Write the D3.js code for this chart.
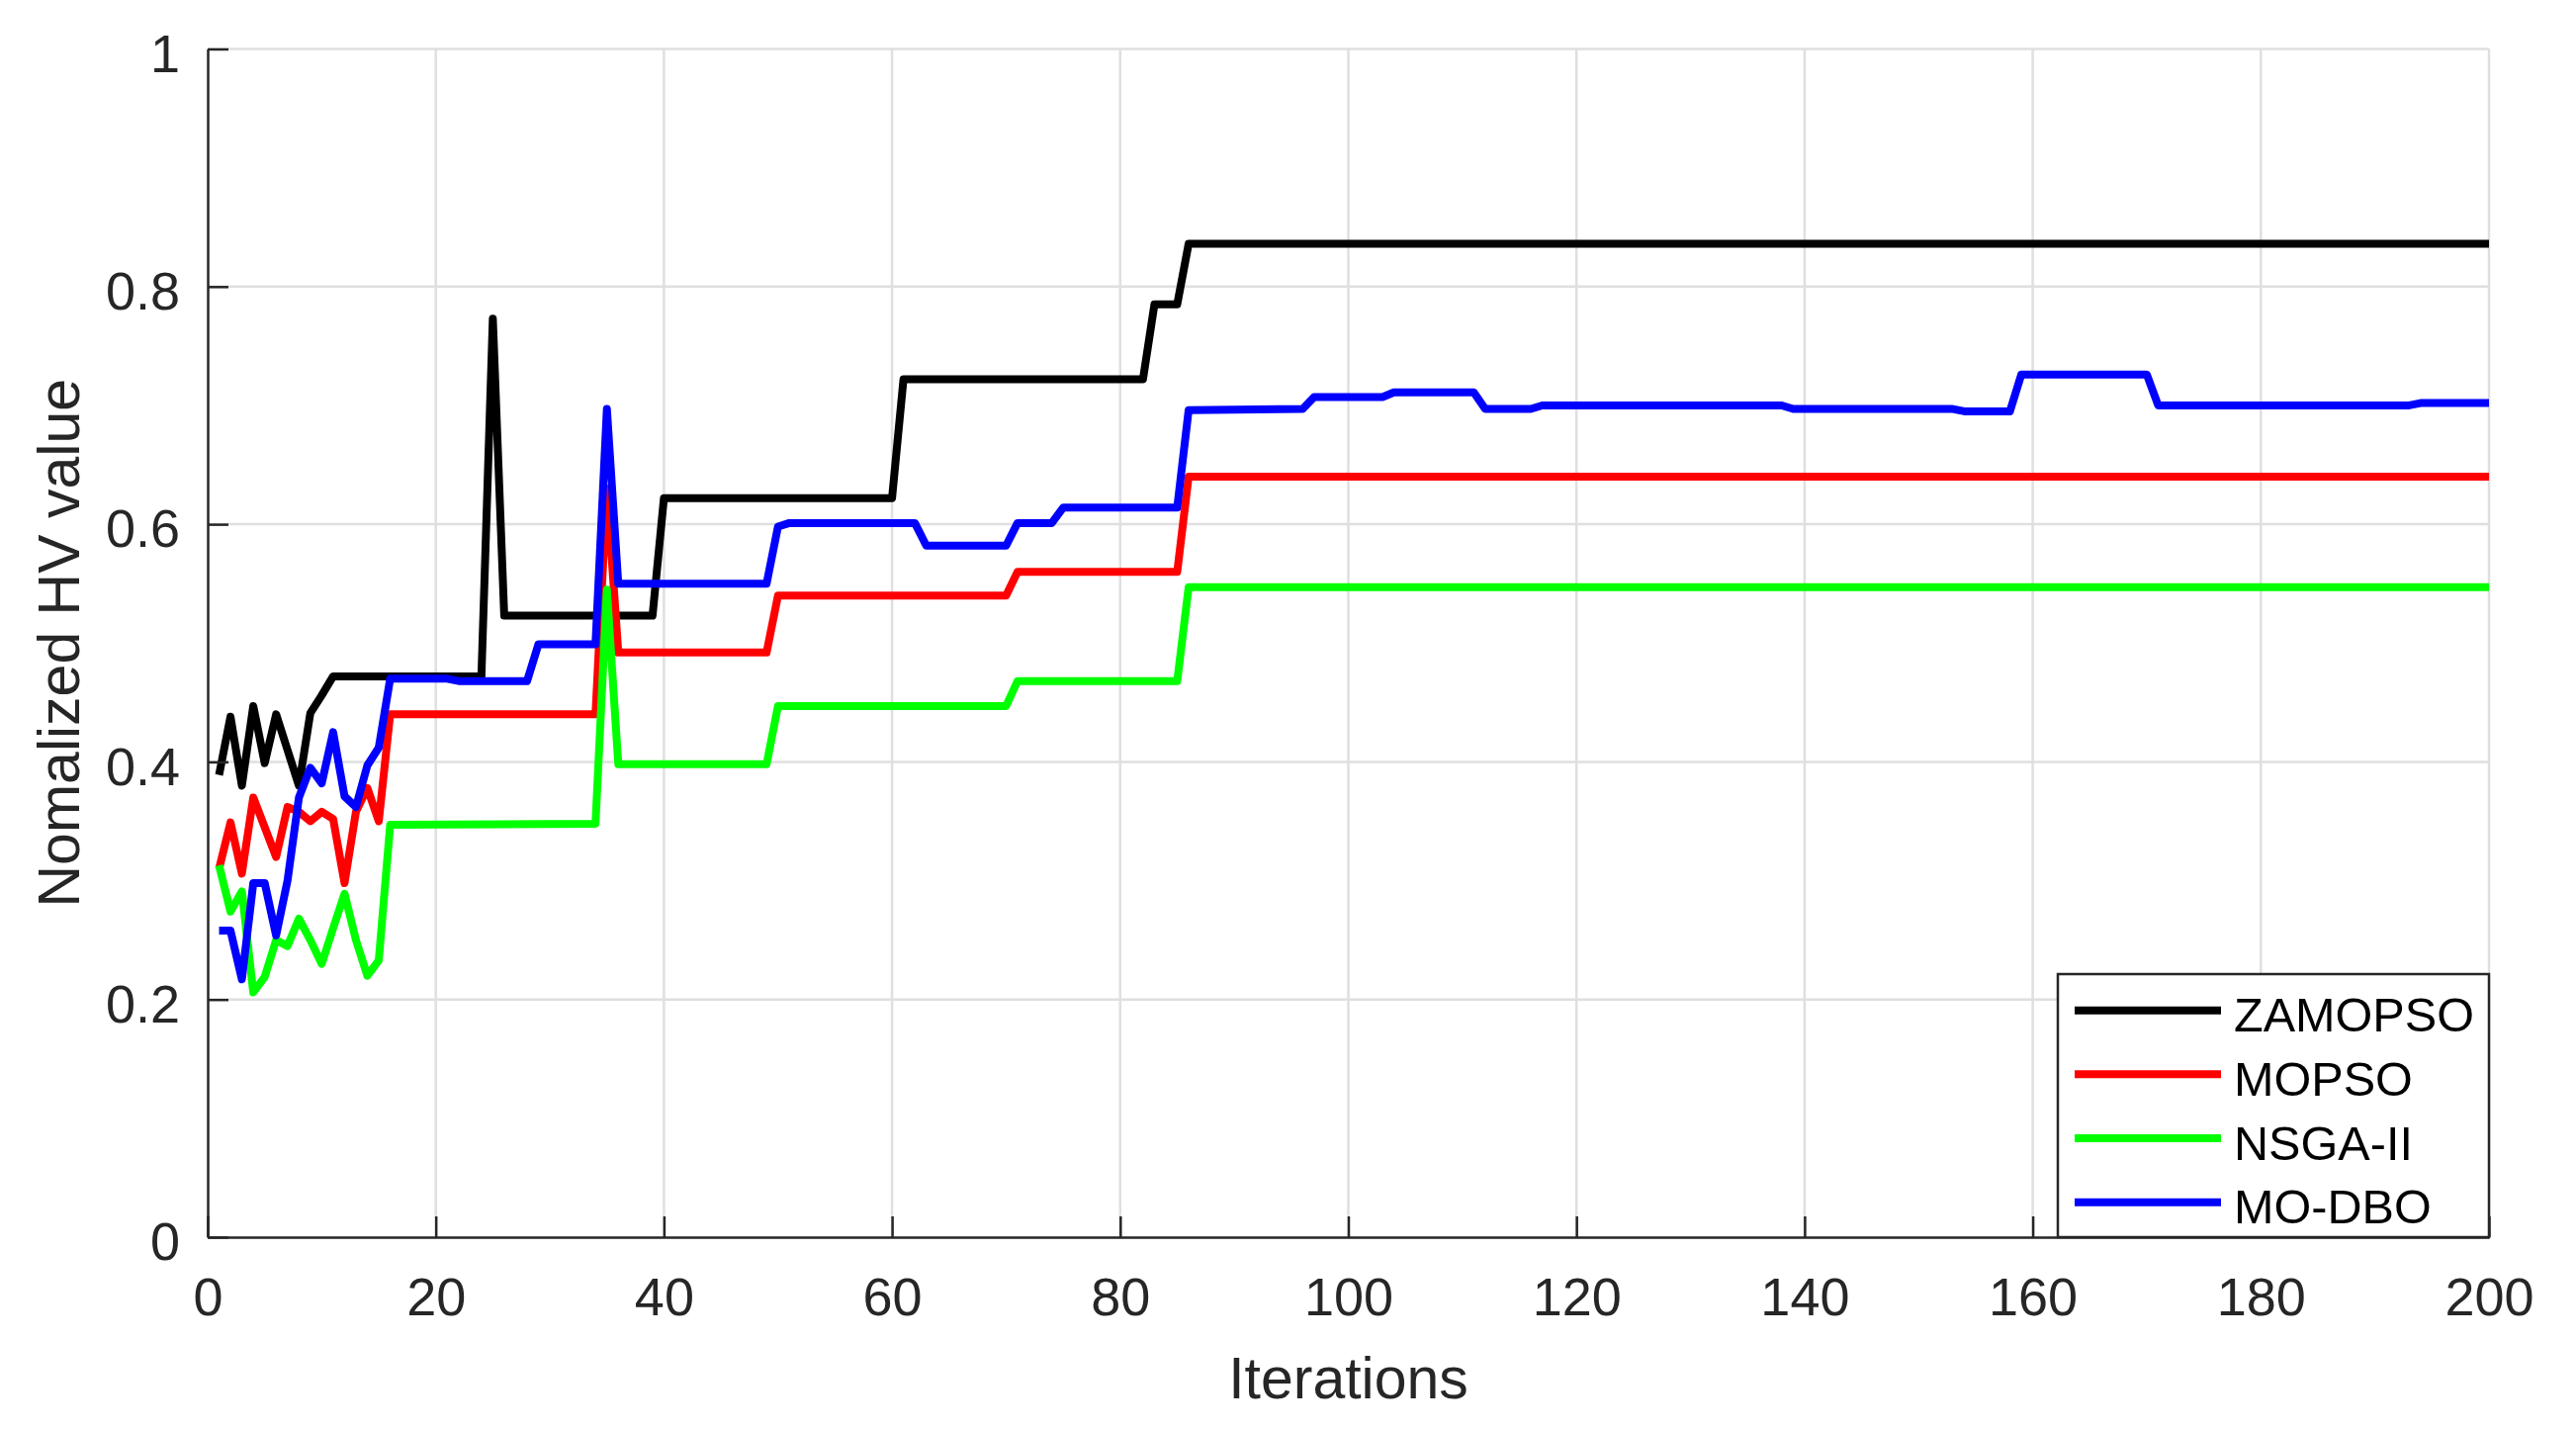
<!DOCTYPE html>
<html>
<head>
<meta charset="utf-8">
<script src="https://cdn.jsdelivr.net/npm/d3@7"></script>
<style>
  body { margin: 0; background: #fff; }
  svg text { font-family: "Liberation Sans", Arial, sans-serif; fill: #262626; }
</style>
</head>
<body>
<svg id="chart"></svg>
<script>
// --- data ---
const seriesNames = ["ZAMOPSO", "MOPSO", "NSGA-II", "MO-DBO"];
const seriesColors = ["#000000", "#ff0000", "#00ff00", "#0000ff"];

// points where each curve changes direction (flat runs keep their end points)
const zamopsoIter = [1, 2, 3, 4, 5, 6, 7, 8, 9, 10, 11, 24, 25, 26, 39, 40, 60, 61, 82, 83, 85, 86, 200];
const zamopsoHV   = [0.389, 0.438, 0.380, 0.447, 0.399, 0.440, 0.410, 0.380, 0.441, 0.456, 0.472, 0.472, 0.773, 0.523, 0.523, 0.622, 0.622, 0.722, 0.722, 0.785, 0.785, 0.836, 0.836];

const mopsoIter = [1, 2, 3, 4, 5, 6, 7, 8, 9, 10, 11, 12, 13, 14, 15, 16, 34, 35, 36, 49, 50, 70, 71, 85, 86, 200];
const mopsoHV   = [0.310, 0.349, 0.306, 0.370, 0.345, 0.320, 0.362, 0.358, 0.350, 0.358, 0.352, 0.298, 0.358, 0.378, 0.350, 0.440, 0.440, 0.630, 0.492, 0.492, 0.540, 0.540, 0.560, 0.560, 0.640, 0.640];

const nsgaIter = [1, 2, 3, 4, 5, 6, 7, 8, 9, 10, 11, 12, 13, 14, 15, 16, 34, 35, 36, 49, 50, 70, 71, 85, 86, 200];
const nsgaHV   = [0.313, 0.274, 0.291, 0.206, 0.219, 0.250, 0.245, 0.268, 0.250, 0.230, 0.260, 0.289, 0.250, 0.220, 0.233, 0.347, 0.348, 0.545, 0.398, 0.398, 0.447, 0.447, 0.468, 0.468, 0.547, 0.547];

const modboIter = [1, 2, 3, 4, 5, 6, 7, 8, 9, 10, 11, 12, 13, 14, 15, 16, 21, 22, 28, 29, 34, 35, 36, 49, 50, 51, 62, 63, 70, 71, 74, 75, 85, 86, 96, 97, 103, 104, 111, 112, 116, 117, 138, 139, 153, 154, 158, 159, 170, 171, 193, 194, 200];
const modboHV   = [0.258, 0.258, 0.217, 0.298, 0.298, 0.254, 0.300, 0.370, 0.395, 0.382, 0.425, 0.371, 0.362, 0.397, 0.412, 0.470, 0.470, 0.468, 0.468, 0.499, 0.499, 0.697, 0.550, 0.550, 0.598, 0.601, 0.601, 0.582, 0.582, 0.601, 0.601, 0.614, 0.614, 0.696, 0.697, 0.707, 0.707, 0.711, 0.711, 0.697, 0.697, 0.700, 0.700, 0.697, 0.697, 0.695, 0.695, 0.726, 0.726, 0.700, 0.700, 0.702, 0.702];

const xTicks = [0, 20, 40, 60, 80, 100, 120, 140, 160, 180, 200];
const yTicks = [0, 0.2, 0.4, 0.6, 0.8, 1];

const xTitle = "Iterations";
const yTitle = "Nomalized HV value";

// --- layout ---
const width = 2605, height = 1445;
const margin = { left: 210, right: 88, top: 49.5, bottom: 194 };
const plotW = width - margin.left - margin.right;
const plotH = height - margin.top - margin.bottom;

const svg = d3.select("#chart")
    .attr("width", width)
    .attr("height", height)
    .style("background", "#fff");

const x = d3.scaleLinear().domain([0, 200]).range([margin.left, margin.left + plotW]);
const y = d3.scaleLinear().domain([0, 1]).range([margin.top + plotH, margin.top]);

// grid
const grid = svg.append("g").attr("stroke", "#dfdfdf").attr("stroke-width", 2.5);
grid.selectAll(".gx")
    .data(xTicks.filter(d => d > 0))
    .join("line")
    .attr("x1", d => x(d)).attr("x2", d => x(d))
    .attr("y1", y(0)).attr("y2", y(1));
grid.selectAll(".gy")
    .data(yTicks.filter(d => d > 0))
    .join("line")
    .attr("x1", x(0)).attr("x2", x(200))
    .attr("y1", d => y(d)).attr("y2", d => y(d));

// series
const series = [
    { iter: zamopsoIter, hv: zamopsoHV },
    { iter: mopsoIter, hv: mopsoHV },
    { iter: nsgaIter, hv: nsgaHV },
    { iter: modboIter, hv: modboHV }
];

const line = d3.line()
    .x(d => x(d[0]))
    .y(d => y(d[1]));

svg.append("g")
    .selectAll("path")
    .data(series)
    .join("path")
    .attr("d", s => line(s.iter.map((it, i) => [it, s.hv[i]])))
    .attr("fill", "none")
    .attr("stroke", (s, i) => seriesColors[i])
    .attr("stroke-width", 8)
    .attr("stroke-linejoin", "round");

// axes
const xAxis = d3.axisBottom(x)
    .tickValues(xTicks)
    .tickSizeInner(-21)
    .tickSizeOuter(0)
    .tickPadding(41)
    .tickFormat(d3.format("d"));

const yAxis = d3.axisLeft(y)
    .tickValues(yTicks)
    .tickSizeInner(-21)
    .tickSizeOuter(0)
    .tickPadding(28)
    .tickFormat(d3.format("~g"));

const gx = svg.append("g")
    .attr("transform", `translate(0,${y(0)})`)
    .call(xAxis);
const gy = svg.append("g")
    .attr("transform", `translate(${x(0)},0)`)
    .call(yAxis);

[gx, gy].forEach(g => {
    g.select(".domain").attr("stroke", "#262626").attr("stroke-width", 2.5);
    g.selectAll(".tick line").attr("stroke", "#262626").attr("stroke-width", 2.5);
    g.selectAll(".tick text")
        .attr("fill", "#262626")
        .style("font-size", "54px")
        .style("font-family", '"Liberation Sans", Arial, sans-serif');
});
gy.selectAll(".tick text").attr("dy", "0.42em");

// axis titles
svg.append("text")
    .attr("x", x(100))
    .attr("y", 1414)
    .attr("text-anchor", "middle")
    .style("font-size", "59px")
    .text(xTitle);

svg.append("text")
    .attr("transform", `translate(80,${y(0.5)}) rotate(-90)`)
    .attr("text-anchor", "middle")
    .style("font-size", "59px")
    .text(yTitle);

// legend
const legW = 436, legH = 266;
const legend = svg.append("g")
    .attr("transform", `translate(${x(200) - legW},${y(0) - legH})`);

legend.append("rect")
    .attr("width", legW)
    .attr("height", legH)
    .attr("fill", "#fff")
    .attr("stroke", "#262626")
    .attr("stroke-width", 2.5);

const items = legend.selectAll(".item")
    .data(seriesNames)
    .join("g")
    .attr("class", "item")
    .attr("transform", (d, i) => `translate(0,${36.7 + i * 64.65})`);

items.append("line")
    .attr("x1", 17).attr("x2", 165)
    .attr("stroke", (d, i) => seriesColors[i])
    .attr("stroke-width", 8);

items.append("text")
    .attr("x", 178)
    .attr("y", 21.5)
    .style("font-size", "48.6px")
    .style("fill", "#000")
    .text(d => d);
</script>
</body>
</html>
